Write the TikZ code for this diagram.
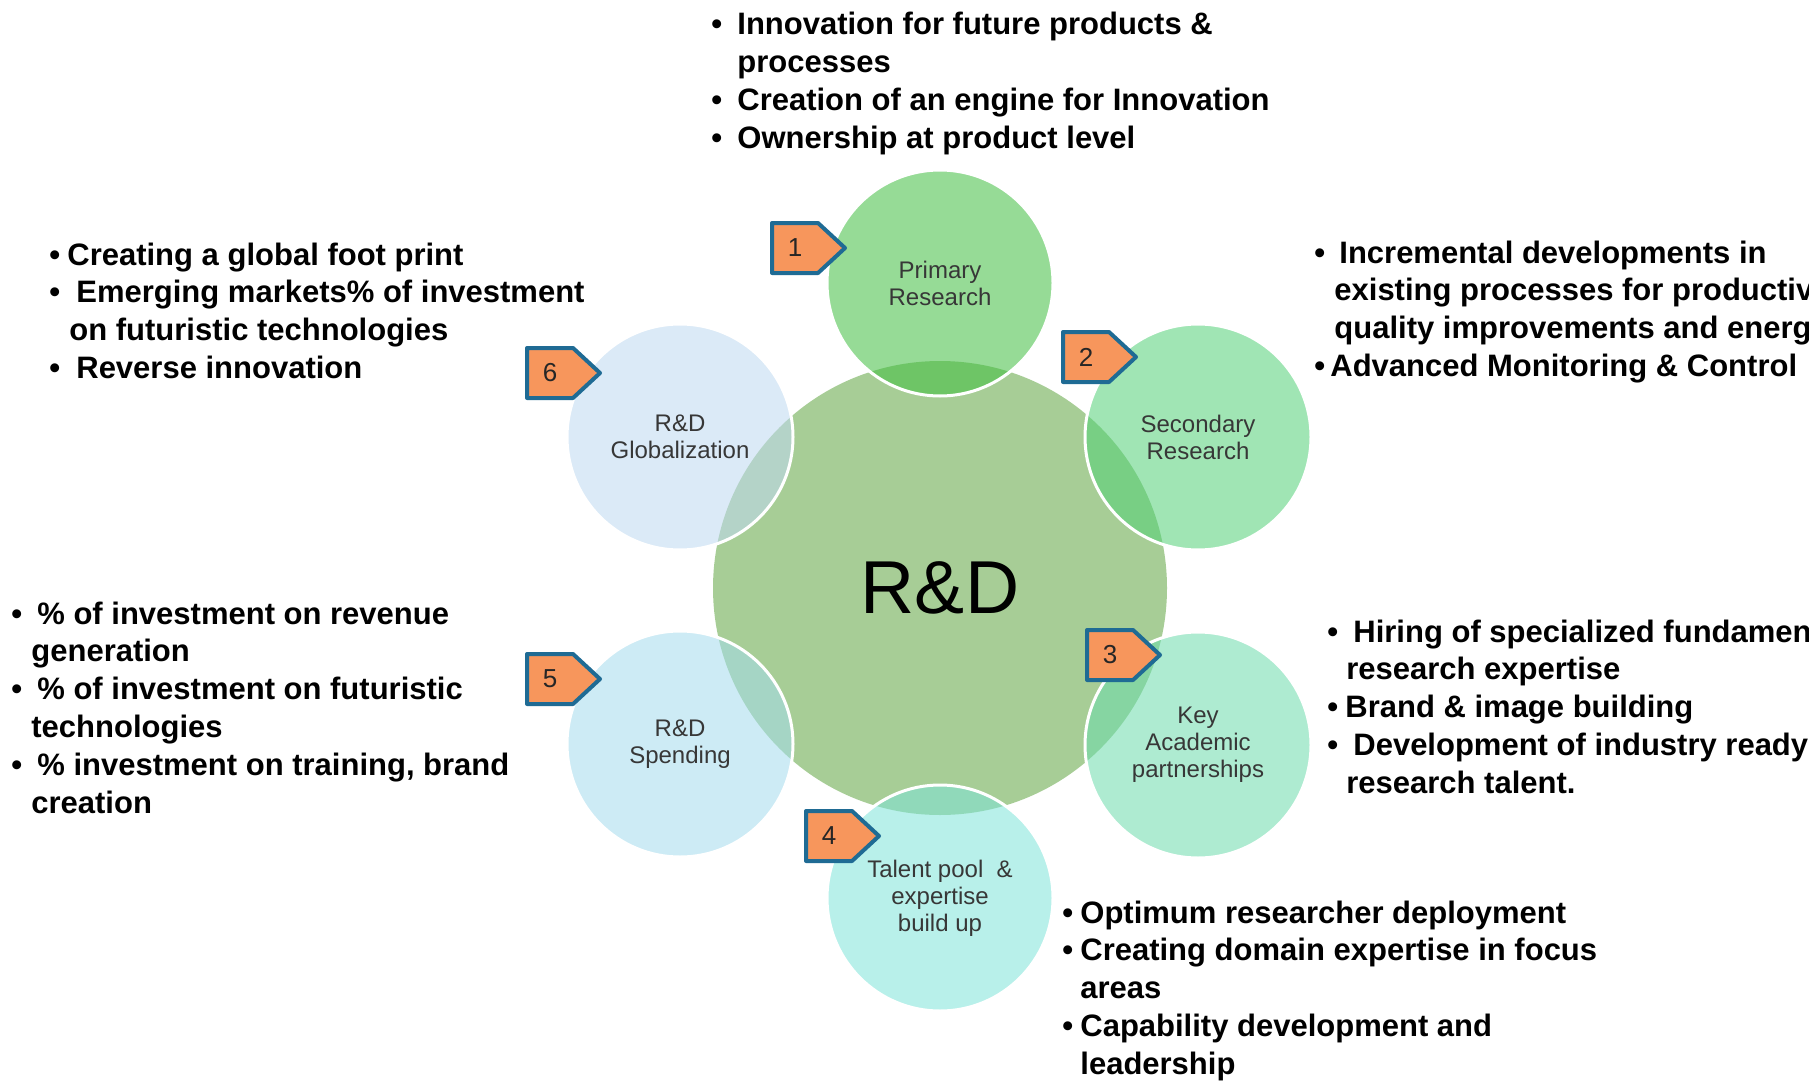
\documentclass[tikz,border=0pt]{standalone}
\usepackage{fontspec}
\setmainfont{Liberation Sans}
\definecolor{cCore}{RGB}{167,205,150}
\definecolor{cPrim}{RGB}{64,191,64}
\definecolor{cSec}{RGB}{82,209,119}
\definecolor{cKey}{RGB}{108,220,173}
\definecolor{cTal}{RGB}{126,228,217}
\definecolor{cSpe}{RGB}{164,220,237}
\definecolor{cGlo}{RGB}{191,217,242}
\definecolor{cBadge}{RGB}{247,150,92}
\definecolor{cBadgeLine}{RGB}{31,107,148}
\definecolor{cLabel}{RGB}{55,55,55}
\newcommand\bitem[2]{\makebox[#1][l]{\textbullet}#2}
\newcommand\citem[2]{\hspace*{#1}#2}
\begin{document}
\begin{tikzpicture}[x=0.5pt,y=-0.5pt,
  core/.style={circle, inner sep=0pt, minimum size=227pt, fill=cCore,
    font=\fontsize{37.5pt}{40pt}\selectfont, text=black},
  petal/.style={circle, inner sep=0pt, minimum size=113pt, fill opacity=0.55,
    text opacity=1, draw=white, draw opacity=1, line width=1.5pt, align=center,
    text=cLabel, font=\fontsize{12pt}{13.5pt}\selectfont},
  badge/.style={fill=cBadge, draw=cBadgeLine, line width=2pt, line join=round},
  badgenum/.style={inner sep=0pt, text=black!85, font=\fontsize{13pt}{14pt}\selectfont},
  blk/.style={anchor=base west, inner sep=0pt, text=black,
    font=\fontsize{15.5pt}{18.9pt}\selectfont\bfseries}
]
\clip (0,0) rectangle (1809,1081);
\fill[white] (0,0) rectangle (1809,1081);

% central circle
\node[core] (rd) at (940,588) {R\&D};

% petals
\node[petal, fill=cPrim] (prim) at (940,283) {Primary\\Research};
\node[petal, fill=cSec]  (sec)  at (1198,437) {Secondary\\Research};
\node[petal, fill=cKey]  (key)  at (1198,745) {Key\\Academic\\partnerships};
\node[petal, fill=cTal]  (tal)  at (940,898) {Talent pool\ \ \&\\expertise\\build up};
\node[petal, fill=cSpe]  (spe)  at (680,744) {R\&D\\Spending};
\node[petal, fill=cGlo]  (glo)  at (680,437) {R\&D\\Globalization};

% badges
\path[badge] (772,223) -- ++(46,0) -- ++(27,25) -- ++(-27,25) -- ++(-46,0) -- cycle;
\node[badgenum] (n1) at (795,248) {1};
\path[badge] (1063,332) -- ++(46,0) -- ++(27,25) -- ++(-27,25) -- ++(-46,0) -- cycle;
\node[badgenum] (n2) at (1086,357) {2};
\path[badge] (1087,630) -- ++(46,0) -- ++(27,25) -- ++(-27,25) -- ++(-46,0) -- cycle;
\node[badgenum] (n3) at (1110,655) {3};
\path[badge] (806,811) -- ++(46,0) -- ++(27,25) -- ++(-27,25) -- ++(-46,0) -- cycle;
\node[badgenum] (n4) at (829,836) {4};
\path[badge] (527,654) -- ++(46,0) -- ++(27,25) -- ++(-27,25) -- ++(-46,0) -- cycle;
\node[badgenum] (n5) at (550,679) {5};
\path[badge] (527,348) -- ++(46,0) -- ++(27,25) -- ++(-27,25) -- ++(-46,0) -- cycle;
\node[badgenum] (n6) at (550,373) {6};

% text blocks
\node[blk] (t1) at (711,35) {\parbox[t]{500pt}{%
\bitem{13pt}{Innovation for future products \&}\\
\citem{13pt}{processes}\\
\bitem{13pt}{Creation of an engine for Innovation}\\
\bitem{13pt}{Ownership at product level}}};

\node[blk] (t2) at (1314,263) {\parbox[t]{500pt}{%
\bitem{12.5pt}{Incremental developments in}\\
\citem{10pt}{existing processes for productivi}\\
\citem{10pt}{quality improvements and energ}\\
\bitem{8pt}{Advanced Monitoring \& Control}}};

\node[blk] (t3) at (1327,642) {\parbox[t]{500pt}{%
\bitem{13pt}{Hiring of specialized fundamen}\\
\citem{9.5pt}{research expertise}\\
\bitem{9pt}{Brand \& image building}\\
\bitem{13pt}{Development of industry ready}\\
\citem{9.5pt}{research talent.}}};

\node[blk] (t4) at (1062,923) {\parbox[t]{500pt}{%
\bitem{9pt}{Optimum researcher deployment}\\
\bitem{9pt}{Creating domain expertise in focus}\\
\citem{9pt}{areas}\\
\bitem{9pt}{Capability development and}\\
\citem{9pt}{leadership}}};

\node[blk] (t5) at (11,624) {\parbox[t]{500pt}{%
\bitem{13pt}{\% of investment on revenue}\\
\citem{10pt}{generation}\\
\bitem{13pt}{\% of investment on futuristic}\\
\citem{10pt}{technologies}\\
\bitem{13pt}{\% investment on training, brand}\\
\citem{10pt}{creation}}};

\node[blk] (t6) at (49,265) {\parbox[t]{500pt}{%
\bitem{9pt}{Creating a global foot print}\\
\bitem{13.5pt}{Emerging markets\% of investment}\\
\citem{10pt}{on futuristic technologies}\\
\bitem{13.5pt}{Reverse innovation}}};
\end{tikzpicture}
\end{document}
